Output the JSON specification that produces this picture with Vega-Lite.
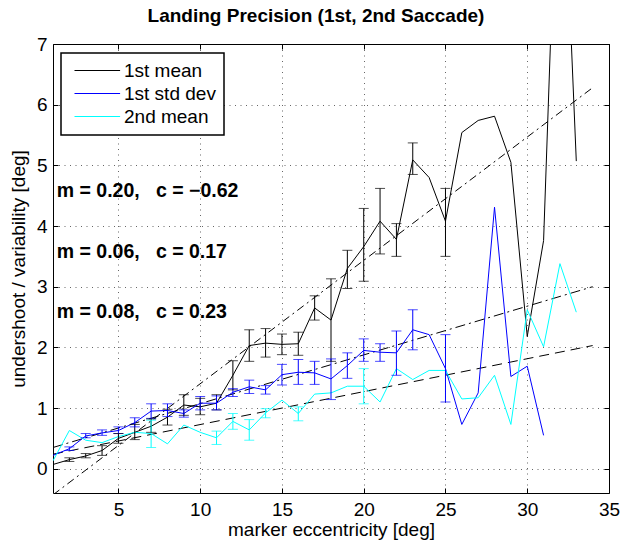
{
  "$schema": "https://vega.github.io/schema/vega-lite/v6.json",
  "width": 556,
  "height": 449,
  "autosize": "none",
  "padding": {"left": 53, "top": 44, "right": 12, "bottom": 53},
  "background": "white",
  "config": {"font": "Liberation Sans", "view": {"stroke": "black", "strokeWidth": 1}},
  "title": {"text": "Landing Precision (1st, 2nd Saccade)", "fontSize": 19, "fontWeight": "bold", "font": "Liberation Sans", "color": "black", "anchor": "middle", "offset": 9, "dx": -15},
  "datasets": {
    "series": [
      {"s": "1st mean", "x": 1, "v": 0.07},
      {"s": "1st mean", "x": 2, "v": 0.15, "lo": 0.12, "hi": 0.18},
      {"s": "1st mean", "x": 3, "v": 0.21, "lo": 0.18, "hi": 0.25},
      {"s": "1st mean", "x": 4, "v": 0.30, "lo": 0.22, "hi": 0.38},
      {"s": "1st mean", "x": 5, "v": 0.50, "lo": 0.42, "hi": 0.58},
      {"s": "1st mean", "x": 6, "v": 0.60, "lo": 0.48, "hi": 0.73},
      {"s": "1st mean", "x": 7, "v": 0.70, "lo": 0.60, "hi": 0.82},
      {"s": "1st mean", "x": 8, "v": 0.85, "lo": 0.72, "hi": 0.98},
      {"s": "1st mean", "x": 9, "v": 1.05, "lo": 0.88, "hi": 1.22},
      {"s": "1st mean", "x": 10, "v": 1.02, "lo": 0.89, "hi": 1.16},
      {"s": "1st mean", "x": 11, "v": 1.08, "lo": 0.97, "hi": 1.22},
      {"s": "1st mean", "x": 12, "v": 1.54, "lo": 1.30, "hi": 1.78},
      {"s": "1st mean", "x": 13, "v": 2.03, "lo": 1.77, "hi": 2.29},
      {"s": "1st mean", "x": 14, "v": 2.07, "lo": 1.84, "hi": 2.31},
      {"s": "1st mean", "x": 15, "v": 2.05, "lo": 1.88, "hi": 2.22},
      {"s": "1st mean", "x": 16, "v": 2.06, "lo": 1.87, "hi": 2.25},
      {"s": "1st mean", "x": 17, "v": 2.65, "lo": 2.45, "hi": 2.85},
      {"s": "1st mean", "x": 18, "v": 2.45, "lo": 1.77, "hi": 3.13},
      {"s": "1st mean", "x": 19, "v": 3.30, "lo": 2.97, "hi": 3.60},
      {"s": "1st mean", "x": 20, "v": 3.66, "lo": 3.09, "hi": 4.29},
      {"s": "1st mean", "x": 21, "v": 4.08, "lo": 3.54, "hi": 4.62},
      {"s": "1st mean", "x": 22, "v": 3.78, "lo": 3.50, "hi": 4.04},
      {"s": "1st mean", "x": 23, "v": 5.09, "lo": 4.85, "hi": 5.37},
      {"s": "1st mean", "x": 24, "v": 4.80},
      {"s": "1st mean", "x": 25, "v": 4.08, "lo": 3.50, "hi": 4.62},
      {"s": "1st mean", "x": 26, "v": 5.54},
      {"s": "1st mean", "x": 27, "v": 5.74},
      {"s": "1st mean", "x": 28, "v": 5.81},
      {"s": "1st mean", "x": 29, "v": 5.05},
      {"s": "1st mean", "x": 30, "v": 2.18},
      {"s": "1st mean", "x": 31, "v": 3.76},
      {"s": "1st mean", "x": 32, "v": 11.5},
      {"s": "1st mean", "x": 33, "v": 5.07},
      {"s": "1st std dev", "x": 1, "v": 0.22},
      {"s": "1st std dev", "x": 2, "v": 0.33, "lo": 0.30, "hi": 0.36},
      {"s": "1st std dev", "x": 3, "v": 0.54, "lo": 0.51, "hi": 0.58},
      {"s": "1st std dev", "x": 4, "v": 0.59, "lo": 0.55, "hi": 0.64},
      {"s": "1st std dev", "x": 5, "v": 0.63, "lo": 0.58, "hi": 0.69},
      {"s": "1st std dev", "x": 6, "v": 0.76, "lo": 0.69, "hi": 0.84},
      {"s": "1st std dev", "x": 7, "v": 0.95, "lo": 0.83, "hi": 1.07},
      {"s": "1st std dev", "x": 8, "v": 0.96, "lo": 0.86, "hi": 1.07},
      {"s": "1st std dev", "x": 9, "v": 0.91, "lo": 0.85, "hi": 0.97},
      {"s": "1st std dev", "x": 10, "v": 1.08, "lo": 0.97, "hi": 1.19},
      {"s": "1st std dev", "x": 11, "v": 1.08, "lo": 0.97, "hi": 1.20},
      {"s": "1st std dev", "x": 12, "v": 1.26, "lo": 1.19, "hi": 1.32},
      {"s": "1st std dev", "x": 13, "v": 1.35, "lo": 1.24, "hi": 1.46},
      {"s": "1st std dev", "x": 14, "v": 1.30, "lo": 1.23, "hi": 1.37},
      {"s": "1st std dev", "x": 15, "v": 1.55, "lo": 1.38, "hi": 1.72},
      {"s": "1st std dev", "x": 16, "v": 1.59, "lo": 1.39, "hi": 1.80},
      {"s": "1st std dev", "x": 17, "v": 1.58, "lo": 1.39, "hi": 1.77},
      {"s": "1st std dev", "x": 18, "v": 1.48, "lo": 1.14, "hi": 1.81},
      {"s": "1st std dev", "x": 19, "v": 1.70, "lo": 1.49, "hi": 1.91},
      {"s": "1st std dev", "x": 20, "v": 1.95, "lo": 1.77, "hi": 2.14},
      {"s": "1st std dev", "x": 21, "v": 1.92, "lo": 1.77, "hi": 2.06},
      {"s": "1st std dev", "x": 22, "v": 1.91, "lo": 1.54, "hi": 2.27},
      {"s": "1st std dev", "x": 23, "v": 2.29, "lo": 1.96, "hi": 2.62},
      {"s": "1st std dev", "x": 24, "v": 2.21},
      {"s": "1st std dev", "x": 25, "v": 1.65, "lo": 1.10, "hi": 2.21},
      {"s": "1st std dev", "x": 26, "v": 0.73},
      {"s": "1st std dev", "x": 27, "v": 1.25},
      {"s": "1st std dev", "x": 28, "v": 4.31},
      {"s": "1st std dev", "x": 29, "v": 1.52},
      {"s": "1st std dev", "x": 30, "v": 1.69},
      {"s": "1st std dev", "x": 31, "v": 0.55},
      {"s": "2nd mean", "x": 1, "v": 0.13},
      {"s": "2nd mean", "x": 2, "v": 0.63},
      {"s": "2nd mean", "x": 3, "v": 0.47},
      {"s": "2nd mean", "x": 4, "v": 0.43},
      {"s": "2nd mean", "x": 5, "v": 0.53},
      {"s": "2nd mean", "x": 6, "v": 0.60},
      {"s": "2nd mean", "x": 7, "v": 0.58, "lo": 0.35, "hi": 0.80},
      {"s": "2nd mean", "x": 8, "v": 0.41},
      {"s": "2nd mean", "x": 9, "v": 0.72},
      {"s": "2nd mean", "x": 10, "v": 0.60},
      {"s": "2nd mean", "x": 11, "v": 0.51, "lo": 0.40, "hi": 0.62},
      {"s": "2nd mean", "x": 12, "v": 0.78, "lo": 0.65, "hi": 0.91},
      {"s": "2nd mean", "x": 13, "v": 0.64, "lo": 0.47, "hi": 0.81},
      {"s": "2nd mean", "x": 14, "v": 0.92, "lo": 0.84, "hi": 0.99},
      {"s": "2nd mean", "x": 15, "v": 1.13},
      {"s": "2nd mean", "x": 16, "v": 0.91, "lo": 0.79, "hi": 1.02},
      {"s": "2nd mean", "x": 17, "v": 1.23},
      {"s": "2nd mean", "x": 18, "v": 1.25},
      {"s": "2nd mean", "x": 19, "v": 1.36},
      {"s": "2nd mean", "x": 20, "v": 1.36, "lo": 1.07, "hi": 1.65},
      {"s": "2nd mean", "x": 21, "v": 1.10},
      {"s": "2nd mean", "x": 22, "v": 1.65},
      {"s": "2nd mean", "x": 23, "v": 1.47},
      {"s": "2nd mean", "x": 24, "v": 1.62},
      {"s": "2nd mean", "x": 25, "v": 1.62},
      {"s": "2nd mean", "x": 26, "v": 1.15},
      {"s": "2nd mean", "x": 27, "v": 1.17},
      {"s": "2nd mean", "x": 28, "v": 1.54},
      {"s": "2nd mean", "x": 29, "v": 0.73},
      {"s": "2nd mean", "x": 30, "v": 2.62},
      {"s": "2nd mean", "x": 31, "v": 2.01},
      {"s": "2nd mean", "x": 32, "v": 3.38},
      {"s": "2nd mean", "x": 33, "v": 2.58}
    ],
    "fits": [
      {"f": "a", "x": 1, "y": -0.43},
      {"f": "a", "x": 34, "y": 6.28},
      {"f": "b", "x": 1, "y": 0.35},
      {"f": "b", "x": 34, "y": 3.0},
      {"f": "c", "x": 1, "y": 0.24},
      {"f": "c", "x": 34, "y": 2.03}
    ],
    "notes": [
      {"x": 1.23, "y": 4.58, "t": "m = 0.20,\u00a0\u00a0\u00a0c = \u22120.62"},
      {"x": 1.23, "y": 3.58, "t": "m = 0.06,\u00a0\u00a0\u00a0c = 0.17"},
      {"x": 1.23, "y": 2.59, "t": "m = 0.08,\u00a0\u00a0\u00a0c = 0.23"}
    ]
  },
  "layer": [
    {
      "data": {"name": "fits"},
      "mark": {"type": "line", "strokeWidth": 1, "color": "black", "clip": true},
      "encoding": {
        "x": {"field": "x", "type": "quantitative", "scale": {"domain": [1, 35], "nice": false, "zero": false}, "axis": null},
        "y": {"field": "y", "type": "quantitative", "scale": {"domain": [-0.4, 7], "nice": false, "zero": false}, "axis": null},
        "detail": {"field": "f", "type": "nominal"},
        "strokeDash": {"field": "f", "type": "nominal", "scale": {"domain": ["a", "b", "c"], "range": [[8, 4, 2, 4], [10, 4, 2, 4], [10, 6]]}, "legend": null}
      }
    },
    {
      "data": {"name": "series"},
      "mark": {"type": "line", "strokeWidth": 1, "clip": true},
      "encoding": {
        "x": {"field": "x", "type": "quantitative", "scale": {"domain": [1, 35], "nice": false, "zero": false},
          "axis": {"orient": "bottom", "values": [5, 10, 15, 20, 25, 30, 35], "grid": true, "gridColor": "#000", "gridOpacity": 0.6, "gridDash": [1, 4.5], "domain": false, "tickSize": -5, "tickColor": "black", "labelFontSize": 19, "labelColor": "black", "labelPadding": 12, "labelFlush": false, "labelOverlap": false, "labelFont": "Liberation Sans", "title": "marker eccentricity [deg]", "titleFontSize": 19, "titleFontWeight": "normal", "titleColor": "black", "titleFont": "Liberation Sans", "titlePadding": 1}},
        "y": {"field": "v", "type": "quantitative", "scale": {"domain": [-0.4, 7], "nice": false, "zero": false},
          "axis": {"orient": "left", "values": [0, 1, 2, 3, 4, 5, 6, 7], "grid": true, "gridColor": "#000", "gridOpacity": 0.6, "gridDash": [1, 4.5], "domain": false, "tickSize": -5, "tickColor": "black", "labelFontSize": 19, "labelColor": "black", "labelPadding": 11, "labelFlush": false, "labelOverlap": false, "labelFont": "Liberation Sans", "title": "undershoot / variability [deg]", "titleFontSize": 19, "titleFontWeight": "normal", "titleColor": "black", "titleFont": "Liberation Sans", "titlePadding": 8}},
        "color": {"field": "s", "type": "nominal", "scale": {"domain": ["1st mean", "1st std dev", "2nd mean"], "range": ["#000000", "#0000ff", "#00ffff"]},
          "legend": {"orient": "none", "legendX": 8, "legendY": 9, "title": null, "symbolType": "M-1,0L10.4,0", "symbolSize": 64, "symbolStrokeWidth": 1, "labelFontSize": 19, "labelFont": "Liberation Sans", "labelColor": "black", "labelOffset": 36, "padding": 8, "rowPadding": 3, "strokeColor": "black", "fillColor": "white",
            "encode": {"legend": {"update": {"strokeWidth": {"value": 1.5}}}}}}
      }
    },
    {
      "data": {"name": "series"},
      "transform": [{"filter": "isValid(datum.lo)"}],
      "mark": {"type": "rule", "strokeWidth": 1},
      "encoding": {
        "x": {"field": "x", "type": "quantitative", "axis": {"orient": "top", "values": [5, 10, 15, 20, 25, 30, 35], "labels": false, "grid": false, "domain": false, "tickSize": -5, "tickColor": "black", "title": null}},
        "y": {"field": "lo", "type": "quantitative", "axis": {"orient": "right", "values": [0, 1, 2, 3, 4, 5, 6, 7], "labels": false, "grid": false, "domain": false, "tickSize": -5, "tickColor": "black", "title": null}},
        "y2": {"field": "hi"},
        "color": {"field": "s", "type": "nominal", "legend": null}
      }
    },
    {
      "data": {"name": "series"},
      "transform": [{"filter": "isValid(datum.lo)"}],
      "mark": {"type": "tick", "orient": "horizontal", "size": 10, "thickness": 1},
      "encoding": {
        "x": {"field": "x", "type": "quantitative", "axis": null},
        "y": {"field": "lo", "type": "quantitative", "axis": null},
        "color": {"field": "s", "type": "nominal", "legend": null}
      }
    },
    {
      "data": {"name": "series"},
      "transform": [{"filter": "isValid(datum.hi)"}],
      "mark": {"type": "tick", "orient": "horizontal", "size": 10, "thickness": 1},
      "encoding": {
        "x": {"field": "x", "type": "quantitative", "axis": null},
        "y": {"field": "hi", "type": "quantitative", "axis": null},
        "color": {"field": "s", "type": "nominal", "legend": null}
      }
    },
    {
      "data": {"name": "notes"},
      "mark": {"type": "text", "align": "left", "baseline": "middle", "fontSize": 19.5, "fontWeight": "bold", "font": "Liberation Sans", "color": "black"},
      "encoding": {
        "x": {"field": "x", "type": "quantitative", "axis": null},
        "y": {"field": "y", "type": "quantitative", "axis": null},
        "text": {"field": "t", "type": "nominal"}
      }
    }
  ],
  "resolve": {"axis": {"x": "independent", "y": "independent"}}
}
